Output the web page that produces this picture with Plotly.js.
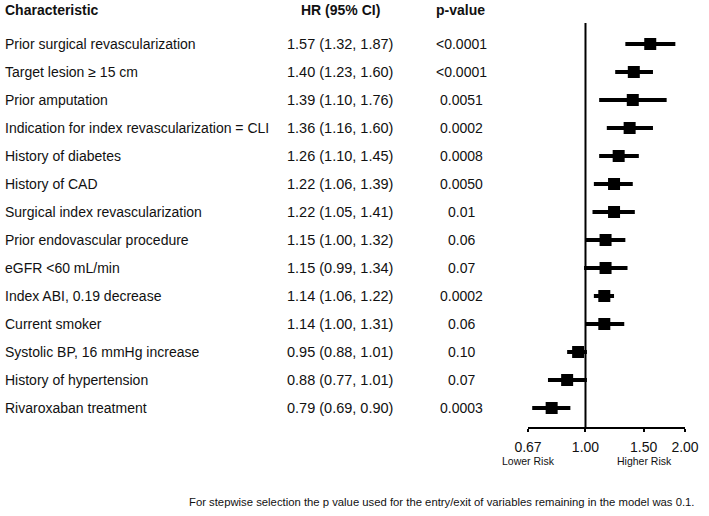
<!DOCTYPE html>
<html>
<head>
<meta charset="utf-8">
<script src="https://cdn.plot.ly/plotly-3.0.1.min.js"></script>
<style>html,body{margin:0;padding:0;background:#fff;}#chart{width:709px;height:516px;}</style>
</head>
<body>
<div id="chart"></div>
<script>
const characteristics = [
  "Prior surgical revascularization",
  "Target lesion \u2265 15 cm",
  "Prior amputation",
  "Indication for index revascularization = CLI",
  "History of diabetes",
  "History of CAD",
  "Surgical index revascularization",
  "Prior endovascular procedure",
  "eGFR <60 mL/min",
  "Index ABI, 0.19 decrease",
  "Current smoker",
  "Systolic BP, 16 mmHg increase",
  "History of hypertension",
  "Rivaroxaban treatment"
];
const hr = [1.57, 1.40, 1.39, 1.36, 1.26, 1.22, 1.22, 1.15, 1.15, 1.14, 1.14, 0.95, 0.88, 0.79];
const ciLow = [1.32, 1.23, 1.10, 1.16, 1.10, 1.06, 1.05, 1.00, 0.99, 1.06, 1.00, 0.88, 0.77, 0.69];
const ciHigh = [1.87, 1.60, 1.76, 1.60, 1.45, 1.39, 1.41, 1.32, 1.34, 1.22, 1.31, 1.01, 1.01, 0.90];
const pValues = ["<0.0001", "<0.0001", "0.0051", "0.0002", "0.0008", "0.0050", "0.01", "0.06", "0.07", "0.0002", "0.06", "0.10", "0.07", "0.0003"];
const tickVals = [0.67, 1.0, 1.5, 2.0];
const tickLabels = ["0.67", "1.00", "1.50", "2.00"];
const headers = ["Characteristic", "HR (95% CI)", "p-value"];
const riskLabels = ["Lower Risk", "Higher Risk"];
const footnote = "For stepwise selection the p value used for the entry/exit of variables remaining in the model was 0.1.";

const W = 709, H = 516;
const FONT = "Liberation Sans, Arial, sans-serif";
const TXT = "#111";
const rows = characteristics.map((_, i) => i);
const fmt = v => v.toFixed(2);
const hrText = hr.map((v, i) => fmt(v) + " (" + fmt(ciLow[i]) + ", " + fmt(ciHigh[i]) + ")");

const axisY = 427, lineTop = 23, row0 = 44, pitch = 28;
const yTop = (lineTop - row0) / pitch, yBot = (axisY - row0) / pitch;

const traces = [
  {
    x: [1, 1], y: [yTop, yBot], mode: "lines", type: "scatter",
    line: {color: "#000", width: 2}, hoverinfo: "skip", showlegend: false
  },
  {
    x: hr, y: rows, mode: "markers", type: "scatter",
    marker: {symbol: "square", size: 12, color: "#000"},
    error_x: {
      type: "data", symmetric: false,
      array: hr.map((v, i) => ciHigh[i] - v),
      arrayminus: hr.map((v, i) => v - ciLow[i]),
      color: "#000", thickness: 4, width: 0
    },
    showlegend: false
  }
];

const ann = [];
characteristics.forEach((c, i) => {
  ann.push({x: 3 / W, xref: "paper", y: i, yref: "y", text: c, showarrow: false,
    xanchor: "left", yanchor: "middle", font: {family: FONT, size: 14, color: TXT}});
  ann.push({x: 340 / W, xref: "paper", y: i, yref: "y", text: hrText[i], showarrow: false,
    xanchor: "center", yanchor: "middle", font: {family: FONT, size: 14.5, color: TXT}});
  ann.push({x: 461 / W, xref: "paper", y: i, yref: "y", text: pValues[i], showarrow: false,
    xanchor: "center", yanchor: "middle", font: {family: FONT, size: 14, color: TXT}});
});
ann.push({x: 3 / W, xref: "paper", y: 1 - 10 / H, yref: "paper", text: "<b>" + headers[0] + "</b>", showarrow: false,
  xanchor: "left", yanchor: "middle", font: {family: FONT, size: 14, color: TXT}});
ann.push({x: 340 / W, xref: "paper", y: 1 - 10 / H, yref: "paper", text: "<b>" + headers[1] + "</b>", showarrow: false,
  xanchor: "center", yanchor: "middle", font: {family: FONT, size: 14, color: TXT}});
ann.push({x: 460 / W, xref: "paper", y: 1 - 10 / H, yref: "paper", text: "<b>" + headers[2] + "</b>", showarrow: false,
  xanchor: "center", yanchor: "middle", font: {family: FONT, size: 14, color: TXT}});
ann.push({x: 528 / W, xref: "paper", y: 1 - 461 / H, yref: "paper", text: riskLabels[0], showarrow: false,
  xanchor: "center", yanchor: "middle", font: {family: FONT, size: 10.5, color: TXT}});
ann.push({x: 644 / W, xref: "paper", y: 1 - 461 / H, yref: "paper", text: riskLabels[1], showarrow: false,
  xanchor: "center", yanchor: "middle", font: {family: FONT, size: 10.5, color: TXT}});
ann.push({x: 697 / W, xref: "paper", y: 1 - 502 / H, yref: "paper", text: footnote, showarrow: false,
  xanchor: "right", yanchor: "middle", font: {family: FONT, size: 11.3, color: TXT}});

const layout = {
  width: W, height: H,
  margin: {l: 0, r: 0, t: 0, b: 0},
  paper_bgcolor: "#fff", plot_bgcolor: "rgba(0,0,0,0)",
  xaxis: {
    type: "log", domain: [528 / W, 685 / W],
    range: [Math.log10(0.67), Math.log10(2.0)],
    tickvals: tickVals, ticktext: tickLabels,
    ticks: "outside", ticklen: 3, tickwidth: 2, tickcolor: "#000",
    ticklabelstandoff: 3,
    showline: true, linewidth: 2, linecolor: "#000",
    showgrid: false, zeroline: false,
    tickfont: {family: FONT, size: 14, color: TXT}
  },
  yaxis: {
    domain: [1 - axisY / H, 1 - lineTop / H],
    range: [yBot, yTop],
    showgrid: false, zeroline: false, showline: false, showticklabels: false, ticks: ""
  },
  annotations: ann,
  showlegend: false
};

Plotly.newPlot("chart", traces, layout, {staticPlot: true, displayModeBar: false});
</script>
</body>
</html>
